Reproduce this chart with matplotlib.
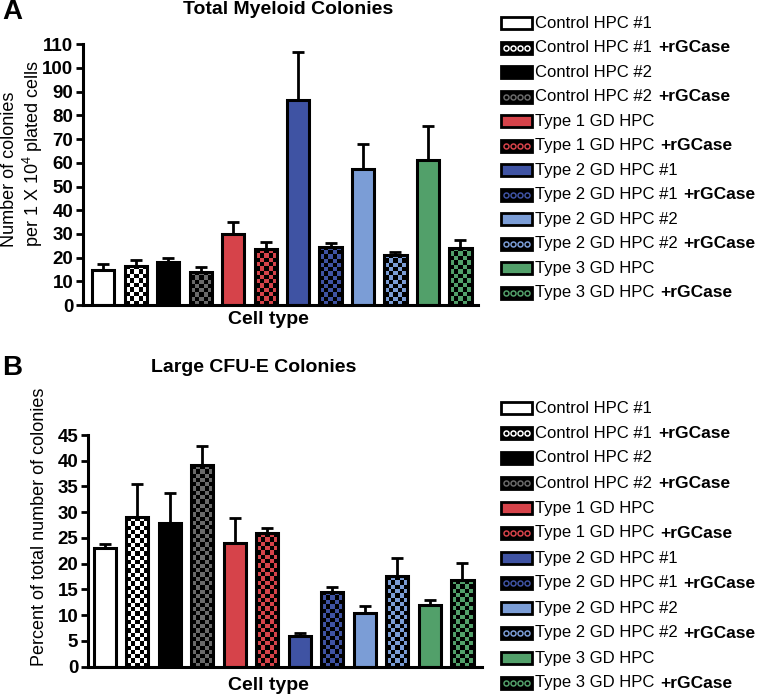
#%% Imports
import numpy as np
import matplotlib.pyplot as plt
from matplotlib.patches import Rectangle
from matplotlib.lines import Line2D

plt.rcParams['font.family'] = ['Liberation Sans', 'DejaVu Sans']
plt.rcParams['mathtext.fontset'] = 'custom'
plt.rcParams['mathtext.rm'] = 'Liberation Sans'
plt.rcParams['mathtext.it'] = 'Liberation Sans:italic'
plt.rcParams['mathtext.bf'] = 'Liberation Sans:bold'

#%% Data
groups = ['Control HPC #1', 'Control HPC #1', 'Control HPC #2', 'Control HPC #2',
          'Type 1 GD HPC', 'Type 1 GD HPC', 'Type 2 GD HPC #1', 'Type 2 GD HPC #1',
          'Type 2 GD HPC #2', 'Type 2 GD HPC #2', 'Type 3 GD HPC', 'Type 3 GD HPC']
treated = [False, True, False, True, False, True, False, True, False, True, False, True]
colors = ['#ffffff', '#ffffff', '#000000', '#6a6a6a', '#d6434a', '#d6434a',
          '#3f53a3', '#3f53a3', '#7b9dd6', '#7b9dd6', '#52a06a', '#52a06a']

myeloid_mean = [14.8, 16.6, 18.3, 14.1, 29.8, 23.5, 86.5, 24.6, 57.4, 21.1, 61.2, 24.1]
myeloid_top = [17.2, 18.9, 20.0, 15.9, 35.2, 26.7, 106.9, 26.2, 67.9, 22.4, 75.7, 27.4]

cfue_mean = [23.0, 29.1, 28.0, 39.1, 24.1, 25.9, 6.0, 14.6, 10.4, 17.6, 12.0, 16.8]
cfue_top = [23.8, 35.5, 33.7, 42.9, 28.8, 26.9, 6.6, 15.4, 11.7, 21.2, 12.9, 20.2]

W, H = 765, 698


def fc(x, y):
    # pixel position (from top left) to figure fraction
    return x / W, 1 - y / H


#%% Panel drawing
def add_checker(ax, bar):
    x0, y0 = bar.get_x(), bar.get_y()
    w, h = bar.get_width(), bar.get_height()
    p0 = ax.transData.transform((x0, y0))
    p1 = ax.transData.transform((x0 + w, y0 + h))
    nx = max(1, int(round((p1[0] - p0[0]) / 4.3)))
    ny = max(1, int(round((p1[1] - p0[1]) / 4.3)))
    ii, jj = np.indices((ny, nx))
    img = np.zeros((ny, nx, 4))
    img[..., 3] = ((ii + jj) % 2 == 0)
    im = ax.imshow(img, extent=(x0, x0 + w, y0, y0 + h), origin='lower',
                   aspect='auto', interpolation='nearest', zorder=3)
    im.set_clip_path(bar)


def draw_panel(ax, means, tops, ymax, step, xlim):
    x = np.arange(len(means))
    ax.set_xlim(*xlim)
    ax.set_ylim(0, ymax)
    bars = ax.bar(x, means, width=0.68, color=colors, edgecolor='none', zorder=2)
    for b, t in zip(bars, treated):
        if t:
            add_checker(ax, b)
    ax.bar(x, means, width=0.68, fill=False, edgecolor='black', linewidth=2.2, zorder=4)
    err = np.array(tops) - np.array(means)
    ax.errorbar(x, means, yerr=[np.zeros(len(means)), err], fmt='none', ecolor='black',
                elinewidth=2, capsize=4.5, capthick=2, zorder=1)
    ax.set_xlim(*xlim)
    ax.set_ylim(0, ymax)
    ax.set_xticks([])
    ticks = np.arange(0, ymax + 1, step)
    ax.set_yticks(ticks, labels=[str(int(t)) for t in ticks], fontweight='bold')
    ax.tick_params(axis='y', direction='out', length=5, width=2, labelsize=13.5, pad=2)
    for s in ['top', 'right']:
        ax.spines[s].set_visible(False)
    for s in ['left', 'bottom']:
        ax.spines[s].set_linewidth(2.2)
        ax.spines[s].set_capstyle('projecting')


def draw_legend(fig, y_first, dy):
    renderer = fig.canvas.get_renderer()
    for i, (g, t, c) in enumerate(zip(groups, treated, colors)):
        yc = y_first + i * dy
        x0, y0 = fc(501, yc + 6)
        face = 'black' if t else c
        fig.add_artist(Rectangle((x0, y0), 31 / W, 12 / H, facecolor=face,
                                 edgecolor='black', linewidth=2, transform=fig.transFigure))
        if t:
            xs = [(506 + 7 * k) / W for k in range(4)]
            ys = [1 - yc / H] * 4
            fig.add_artist(Line2D(xs, ys, marker='o', linestyle='none', markersize=3.6,
                                  markerfacecolor='none', markeredgecolor=c,
                                  markeredgewidth=1.1, transform=fig.transFigure))
        tx = fig.text(*fc(535, yc), g, fontsize=12, ha='left', va='center')
        if t:
            ext = tx.get_window_extent(renderer)
            fig.text(ext.x1 / W + 6 / W, 1 - yc / H, '+rGCase', fontsize=12.5,
                     fontweight='bold', ha='left', va='center')


#%% Figure
fig = plt.figure(figsize=(W / 100, H / 100), dpi=100)

ax1 = fig.add_axes([83 / W, 1 - 305 / H, (478 - 83) / W, (305 - 44.3) / H])
draw_panel(ax1, myeloid_mean, myeloid_top, 110, 10, (-0.62, 11.54))

ax2 = fig.add_axes([88 / W, 1 - 666.7 / H, (482 - 88) / W, (666.7 - 435) / H])
draw_panel(ax2, cfue_mean, cfue_top, 45, 5, (-0.51, 11.6))

#%% Texts
fig.text(*fc(2, 12), 'A', fontsize=20, fontweight='bold', ha='left', va='center')
fig.text(*fc(2, 368), 'B', fontsize=20, fontweight='bold', ha='left', va='center')
fig.text(*fc(288, 10), 'Total Myeloid Colonies', fontsize=14, fontweight='bold',
         ha='center', va='center')
fig.text(*fc(254, 368), 'Large CFU-E Colonies', fontsize=14, fontweight='bold',
         ha='center', va='center')
fig.text(*fc(268, 319), 'Cell type', fontsize=14, fontweight='bold', ha='center', va='center')
fig.text(*fc(268, 685), 'Cell type', fontsize=14, fontweight='bold', ha='center', va='center')
fig.text(*fc(10, 247), 'Number of colonies', fontsize=13,
         rotation=90, ha='center', va='bottom')
fig.text(*fc(33, 247), 'per 1 X 10$^4$ plated cells', fontsize=13,
         rotation=90, ha='center', va='bottom')
fig.text(*fc(40, 527), 'Percent of total number of colonies', fontsize=13,
         rotation=90, ha='center', va='center')

draw_legend(fig, 23.3, 24.5)
draw_legend(fig, 408, 25.0)

#%% Save
plt.savefig('out.png', dpi=100)
